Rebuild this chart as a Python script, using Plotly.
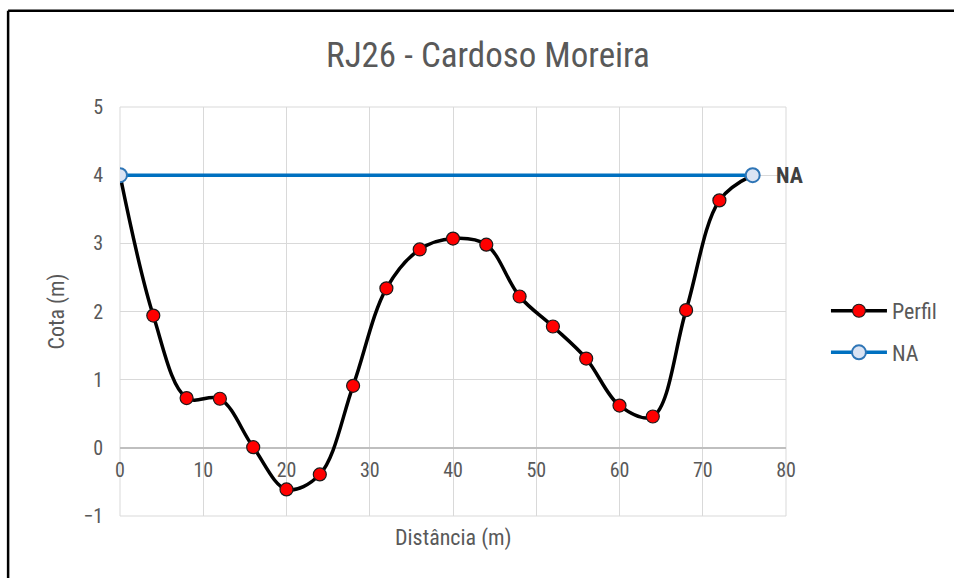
import plotly.graph_objects as go

# Cross-section survey: station distance (m) and ground elevation (m)
distancia = [0, 4, 8, 12, 16, 20, 24, 28, 32, 36, 40, 44, 48, 52, 56, 60, 64, 68, 72, 76]
cota = [4.0, 1.94, 0.73, 0.72, 0.01, -0.61, -0.39, 0.91, 2.34, 2.91, 3.07, 2.98,
        2.22, 1.78, 1.31, 0.62, 0.46, 2.02, 3.63, 4.0]

# Water level (NA) between the two banks
na_x = [0, 76]
na_y = [4.0, 4.0]

x_ticks = [0, 10, 20, 30, 40, 50, 60, 70, 80]
y_ticks = [-1, 0, 1, 2, 3, 4, 5]

FONT = "Liberation Sans Narrow, Arial Narrow, Roboto Condensed, Liberation Sans, sans-serif"
GREY = "#595959"

fig = go.Figure()

fig.add_trace(go.Scatter(
    x=distancia, y=cota, name="Perfil", mode="lines+markers", legendgroup="perfil",
    line=dict(color="black", width=3.5, shape="spline", smoothing=1.0),
    marker=dict(color="#ff0000", size=13, line=dict(color="#1a1a1a", width=1.2)),
))

fig.add_trace(go.Scatter(
    x=na_x, y=na_y, name="NA", mode="lines+markers", legendgroup="na",
    line=dict(color="#0070c0", width=3.5),
    marker=dict(color="#dae3f3", size=14, line=dict(color="#2e75b6", width=2)),
))

# Bold label at the right end of the water line
fig.add_annotation(
    x=na_x[-1], y=na_y[-1], text="<b>NA</b>", showarrow=False,
    xanchor="left", yanchor="middle", xshift=21,
    font=dict(family=FONT, size=22, color="#404040"),
)

# Horizontal axis title sits at the bottom of the frame
fig.add_annotation(
    x=0.5, y=-0.018, xref="paper", yref="paper", text="Distância (m)",
    showarrow=False, xanchor="center", yanchor="top",
    font=dict(family=FONT, size=22, color=GREY),
)

# Plot-area border lines (edge gridlines at x=80 and y=5)
fig.add_shape(
    type="rect", xref="paper", yref="paper", x0=0, x1=1, y0=0, y1=1,
    line=dict(color="#d9d9d9", width=1), fillcolor="rgba(0,0,0,0)", layer="below",
)

# Outer frame: top and left edges
fig.add_shape(
    type="line", xref="paper", yref="paper",
    x0=-0.168, x1=1.2523, y0=1.2355, y1=1.2355,
    line=dict(color="black", width=2.5), layer="below",
)
fig.add_shape(
    type="line", xref="paper", yref="paper",
    x0=-0.168, x1=-0.168, y0=1.2355, y1=-0.16,
    line=dict(color="black", width=2.5), layer="below",
)

fig.update_layout(
    width=954, height=578,
    margin=dict(l=120, r=168, t=107, b=62, autoexpand=False),
    paper_bgcolor="white", plot_bgcolor="white",
    font=dict(family=FONT, color=GREY),
    title=dict(
        text="RJ26 - Cardoso Moreira", x=0.5115, xanchor="center",
        y=0.905, yanchor="middle",
        font=dict(family=FONT, size=35, color=GREY),
    ),
    xaxis=dict(
        range=[0, 80], tickvals=x_ticks, showgrid=True, gridcolor="#d9d9d9", gridwidth=1,
        zeroline=False, showline=False, ticks="",
        anchor="free", position=1 / 6,
        tickfont=dict(family=FONT, size=20, color=GREY),
        ticklabelstandoff=8,
    ),
    yaxis=dict(
        range=[-1, 5], tickvals=y_ticks, showgrid=True, gridcolor="#d9d9d9", gridwidth=1,
        zeroline=True, zerolinecolor="#bfbfbf", zerolinewidth=1.5,
        showline=False, ticks="",
        tickfont=dict(family=FONT, size=20, color=GREY),
        ticklabelstandoff=16,
        title=dict(text="Cota (m)", font=dict(family=FONT, size=22, color=GREY), standoff=12),
    ),
    legend=dict(
        x=1.06, y=0.45, xanchor="left", yanchor="middle",
        font=dict(family=FONT, size=22, color=GREY),
        itemwidth=56, tracegroupgap=10, bgcolor="rgba(0,0,0,0)",
    ),
    showlegend=True,
)

fig.write_html("out.html")
